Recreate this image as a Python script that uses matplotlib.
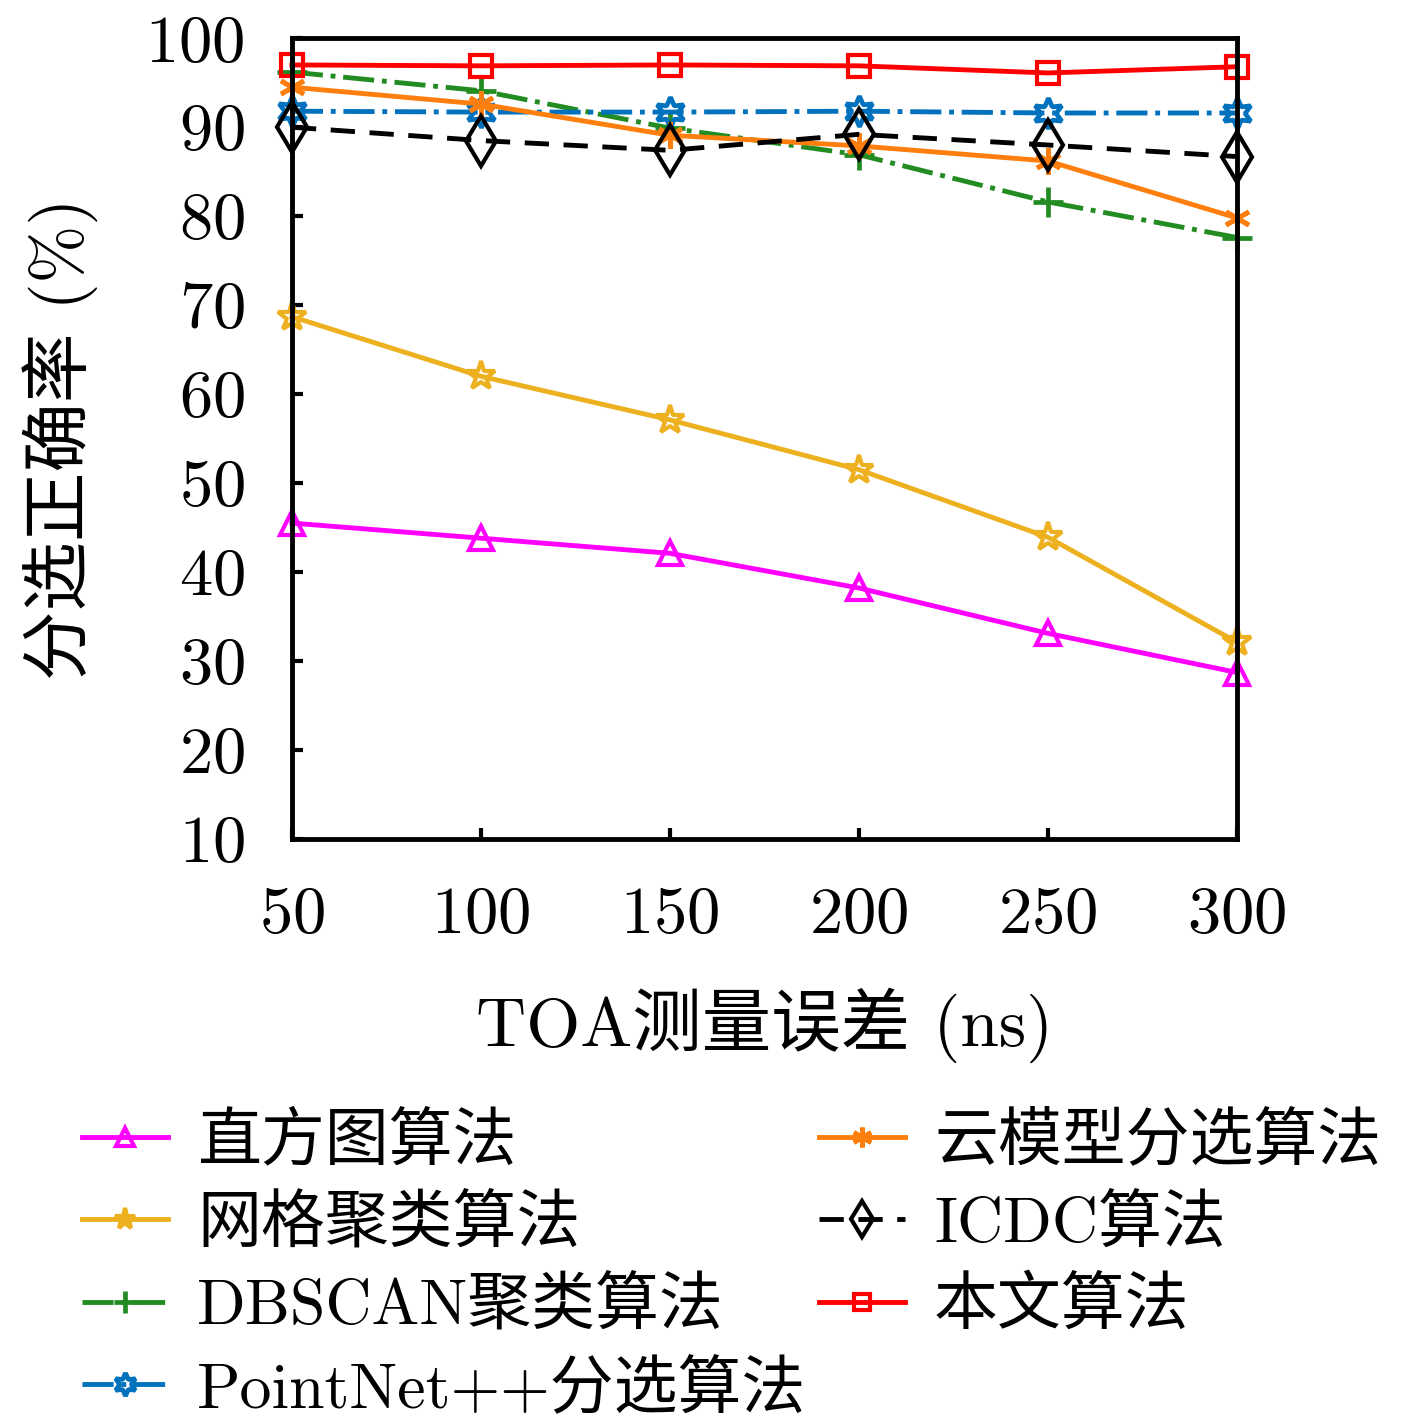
import numpy as np
import matplotlib.pyplot as plt

plt.rcParams['font.family'] = ['cmr10', 'Noto Sans CJK SC']
plt.rcParams['axes.formatter.use_mathtext'] = True
plt.rcParams['mathtext.fontset'] = 'cm'

# TOA error (ns)
toa = [50, 100, 150, 200, 250, 300]

# accuracy (%) per method
hist_acc = [45.5, 43.8, 42.1, 38.2, 33.1, 28.7]
grid_acc = [68.7, 62.0, 57.1, 51.5, 43.9, 32.1]
dbscan_acc = [96.2, 94.1, 89.9, 86.9, 81.6, 77.6]
pointnet_acc = [91.8, 91.7, 91.7, 91.8, 91.6, 91.6]
cloud_acc = [94.5, 92.6, 89.1, 87.9, 86.2, 79.8]
icdc_acc = [90.0, 88.5, 87.4, 89.2, 88.0, 86.7]
ours_acc = [97.0, 96.9, 97.0, 96.9, 96.1, 96.8]

yticks = [10, 20, 30, 40, 50, 60, 70, 80, 90, 100]

fig = plt.figure(figsize=(14.17, 14.17), dpi=100)
ax = fig.add_axes([0.206, 0.408, 0.667, 0.565])

lw = 3.5
common = dict(lw=lw, clip_on=False)
h1, = ax.plot(toa, hist_acc, color='#FF00FF', marker='^', ms=17,
              mfc='none', mew=3, label='直方图算法', **common)
h2, = ax.plot(toa, grid_acc, color='#EDB120', marker='*', ms=21,
              mfc='none', mew=3, label='网格聚类算法', **common)
h3, = ax.plot(toa, dbscan_acc, color='#228B22', ls='-.', marker='+', ms=21,
              mew=3.4, label='DBSCAN聚类算法', **common)
h4, = ax.plot(toa, pointnet_acc, color='#0072BD', ls='-.', marker=(6, 1, 0), ms=22,
              mfc='none', mew=3.4, label='PointNet++分选算法', **common)
h5, = ax.plot(toa, cloud_acc, color='#FF7F0E', marker=(6, 2, 0), ms=19,
              mew=3.4, label='云模型分选算法', **common)
h6, = ax.plot(toa, icdc_acc, color='black', ls=(0, (5, 3)), marker='d', ms=25,
              mfc='none', mew=3, label='ICDC算法', **common)
h7, = ax.plot(toa, ours_acc, color='#FF0000', marker='s', ms=16,
              mfc='none', mew=3, label='本文算法', **common)

ax.set_xlim(50, 300)
ax.set_ylim(10, 100)
ax.set_xticks(toa)
ax.set_yticks(yticks)
ax.tick_params(direction='in', length=8, width=3, labelsize=48,
               top=False, right=False)
ax.tick_params(axis='y', pad=34)
ax.tick_params(axis='x', pad=34)
for s in ax.spines.values():
    s.set_linewidth(3.5)

ax.set_xlabel('TOA测量误差 (ns)', fontsize=50, labelpad=30)
ax.set_ylabel('分选正确率 (%)', fontsize=50, labelpad=34)

leg_kw = dict(loc='upper left', frameon=False, fontsize=46, handlelength=1.35,
              handletextpad=0.45, labelspacing=0.36, markerscale=0.75,
              borderaxespad=0, borderpad=0)
fig.legend(handles=[h1, h2, h3, h4], bbox_to_anchor=(0.058, 0.215), **leg_kw)
fig.legend(handles=[h5, h6, h7], bbox_to_anchor=(0.578, 0.215), **leg_kw)

fig.savefig('out.png', dpi=100)
